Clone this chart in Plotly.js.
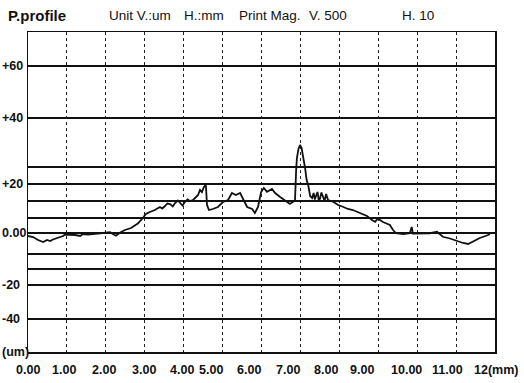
<!DOCTYPE html>
<html>
<head>
<meta charset="utf-8">
<script src="https://cdn.plot.ly/plotly-3.0.1.min.js"></script>
<style>html,body{margin:0;padding:0;background:#fff;}#chart{width:524px;height:383px;}</style>
</head>
<body>
<div id="chart"></div>
<script>
// Horizontal position (mm)
const xMM = [0.00,0.13,0.26,0.39,0.49,0.57,0.64,0.77,0.90,0.95,1.08,1.21,1.34,1.41,1.54,1.72,1.85,1.98,2.11,2.18,2.26,2.36,2.49,2.65,2.83,2.95,3.03,3.13,3.26,3.39,3.45,3.52,3.58,3.65,3.72,3.78,3.85,3.91,3.97,4.03,4.10,4.16,4.24,4.32,4.37,4.42,4.47,4.52,4.57,4.60,4.65,4.75,4.88,5.01,5.14,5.24,5.34,5.45,5.52,5.63,5.76,5.83,5.91,5.99,6.06,6.14,6.27,6.35,6.47,6.60,6.73,6.81,6.86,6.89,6.91,6.95,6.99,7.03,7.07,7.12,7.16,7.20,7.25,7.30,7.34,7.37,7.40,7.44,7.47,7.50,7.54,7.58,7.62,7.66,7.71,7.84,7.97,8.09,8.22,8.35,8.53,8.71,8.84,8.92,8.99,9.12,9.30,9.38,9.46,9.64,9.81,9.86,9.89,10.07,10.33,10.51,10.66,10.84,11.02,11.18,11.31,11.43,11.61,11.79,11.87];
// Profile height (um)
const profileUm = [-1.2,-1.6,-2.8,-3.6,-2.8,-3.2,-2.6,-2.0,-1.2,-0.6,-0.6,-0.8,-1.2,-0.4,-0.6,-0.4,-0.2,-0.1,0.3,-0.4,-1.1,0.1,1.2,2.0,3.9,6.0,7.6,8.4,9.2,10.4,9.8,10.8,11.8,11.6,10.6,12.0,13.0,12.0,11.0,12.4,13.4,12.8,13.2,14.4,15.2,17.2,16.4,18.4,19.2,11.2,9.2,9.6,10.4,12.4,13.2,16.0,15.2,16.0,13.6,10.4,9.6,8.0,10.4,16.4,18.0,16.5,17.6,16.0,14.5,13.2,11.6,12.5,12.8,25.2,30.0,33.6,35.2,34.0,30.8,26.0,21.2,19.2,14.8,14.0,16.0,13.4,14.8,16.4,13.2,13.6,16.2,14.8,12.8,15.6,13.2,12.5,11.2,10.5,9.6,9.2,8.0,6.8,5.2,4.5,5.8,4.4,3.2,1.2,-0.1,-0.4,-0.1,2.4,-0.2,-0.1,-0.1,0.5,-1.5,-2.2,-3.2,-4.0,-4.4,-3.4,-2.0,-1.0,-0.5];

const xTickVals = [0,1,2,3,4,5,6,7,8,9,10,11,12];
const xTickText = ['0.00','1.00','2.00','3.00','4.00','5.00','6.00','7.00','8.00','9.00','10.00','11.00','12(mm)'];
const yLineVals = [66.8,46.0,26.4,19.6,12.8,6.0,0,-8.4,-14.4,-20.8,-34.4];
const yLabelVals = [66.8,46.0,19.6,0,-20.8,-34.4,-47.6];
const yLabelText = ['+60','+40','+20','0.00','-20','-40','(um)'];
const headerText = ['Unit V.:um','H.:mm','Print Mag.','V. 500','H. 10'];

// style: printed label offsets (px) as in the scanned original
const xLabelShift = [-0.5,-3,-1.5,-1,-2,-11.5,-13,-12,-13,-16,-11,-8.5,1];
const headerX = [107,182,237,307,400];

const sans = "'Liberation Sans',Arial,sans-serif";

const annotations = [];
yLabelVals.forEach((v, i) => {
  annotations.push({xref:'paper', yref:'y', x:0, y:v, xshift:-28, xanchor:'left', yanchor:'middle',
    text:yLabelText[i], showarrow:false, font:{family:sans, size:12.5, color:'#111', weight:'bold'}});
});
xTickVals.forEach((v, i) => {
  annotations.push({xref:'x', yref:'paper', x:v, y:0, xshift:xLabelShift[i], yshift:-18, xanchor:'center', yanchor:'middle',
    text:xTickText[i], showarrow:false, font:{family:sans, size:12.5, color:'#111', weight:'bold'}});
});
annotations.push({xref:'paper', yref:'paper', x:0, y:1, xshift:-22, yshift:17, xanchor:'left', yanchor:'middle',
  text:'P.profile', showarrow:false, font:{family:sans, size:15, color:'#111', weight:'bold'}});
headerText.forEach((t, i) => {
  annotations.push({xref:'paper', yref:'paper', x:0, y:1, xshift:headerX[i]-28, yshift:17, xanchor:'left', yanchor:'middle',
    text:t, showarrow:false, font:{family:sans, size:13.5, color:'#111'}});
});

const trace = {x:xMM, y:profileUm, type:'scatter', mode:'lines', line:{color:'#111', width:1.8}, hoverinfo:'skip'};

const layout = {
  width:524, height:383,
  margin:{l:28, r:29, t:32, b:31, pad:0},
  paper_bgcolor:'#fff', plot_bgcolor:'#fff',
  showlegend:false,
  xaxis:{range:[0,12], tickmode:'array', tickvals:xTickVals, showticklabels:false,
    showgrid:true, gridcolor:'#222', gridwidth:1, griddash:'3px,3px',
    showline:true, mirror:true, linecolor:'#111', linewidth:1.5,
    zeroline:false, ticks:''},
  yaxis:{range:[-47.6,80.4], tickmode:'array', tickvals:yLineVals, showticklabels:false,
    showgrid:true, gridcolor:'#111', gridwidth:1.8,
    showline:true, mirror:true, linecolor:'#111', linewidth:1.5,
    zeroline:false, ticks:''},
  annotations:annotations
};

Plotly.newPlot('chart', [trace], layout, {staticPlot:true, displayModeBar:false});
</script>
</body>
</html>
